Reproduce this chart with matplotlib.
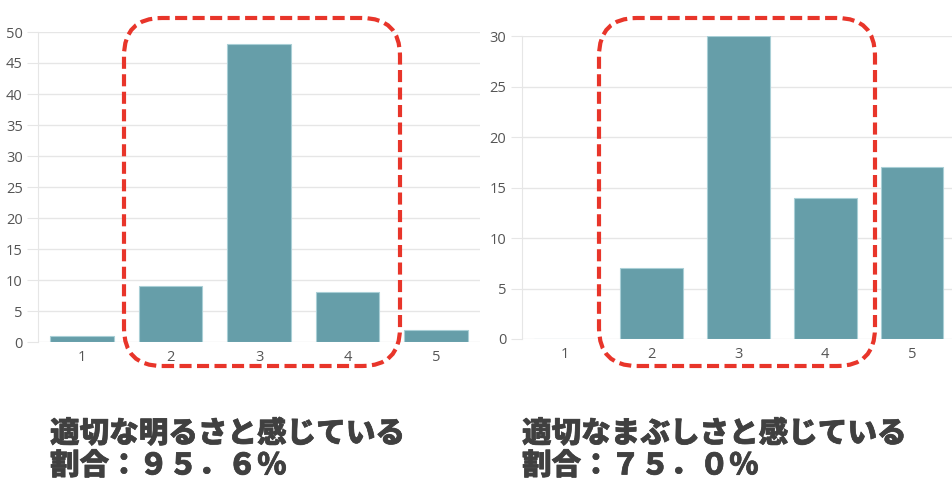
import matplotlib
matplotlib.use("Agg")
import matplotlib.pyplot as plt
import matplotlib.patheffects as pe
from matplotlib.patches import FancyBboxPatch

# ----------------------------
# Data
# ----------------------------
categories = [1, 2, 3, 4, 5]
bright_counts = [1, 9, 48, 8, 2]
glare_counts = [0, 7, 30, 14, 17]
bright_ticks = list(range(0, 51, 5))
glare_ticks = list(range(0, 31, 5))
caption_left = ["適切な明るさと感じている", "割合：９５．６％"]
caption_right = ["適切なまぶしさと感じている", "割合：７５．０％"]

BAR = "#669ea9"
BAR_EDGE = "#a9cfd6"
GRID = "#e6e6e6"
TICK_TXT = "#555555"
RED = "#e8352a"
TEXT = "#404040"

W, H = 952, 490
fig = plt.figure(figsize=(W / 100, H / 100), dpi=100)


def px_axes(x0, x1, ytop, ybot):
    return fig.add_axes([x0 / W, 1 - ybot / H, (x1 - x0) / W, (ybot - ytop) / H])


def draw_bars(ax, values, ticks):
    ax.bar(categories, values, width=0.72, color=BAR, edgecolor=BAR_EDGE,
           linewidth=0.8, zorder=3)
    ax.set_xlim(0.5, 5.5)
    ax.set_ylim(ticks[0], ticks[-1])
    ax.set_yticks(ticks)
    ax.set_xticks(categories)
    ax.grid(axis="y", color=GRID, linewidth=1.0, zorder=0)
    for s in ("top", "right", "bottom"):
        ax.spines[s].set_visible(False)
    ax.spines["left"].set_color(GRID)
    ax.tick_params(axis="y", length=8, color=GRID, labelcolor=TICK_TXT,
                   labelsize=10.5, pad=3)
    ax.tick_params(axis="x", length=0, labelcolor=TICK_TXT, labelsize=10.5, pad=6)
    for lab in ax.get_xticklabels() + ax.get_yticklabels():
        lab.set_family(["Open Sans", "DejaVu Sans"])


ax1 = px_axes(38, 480, 32, 342)
draw_bars(ax1, bright_counts, bright_ticks)

ax2 = px_axes(521.5, 955.5, 36, 339)
draw_bars(ax2, glare_counts, glare_ticks)


# red dashed highlight boxes (pixel-based, y from top)
def red_box(x0, x1, ytop, ybot):
    box = FancyBboxPatch((x0 / 100, (H - ybot) / 100), (x1 - x0) / 100, (ybot - ytop) / 100,
                         boxstyle="round,pad=0,rounding_size=0.38",
                         transform=fig.dpi_scale_trans, fill=False,
                         edgecolor=RED, linewidth=3, linestyle=(0, (2.9, 1.3)),
                         zorder=10)
    fig.patches.append(box)


red_box(124, 400, 18, 366)
red_box(599, 875, 18, 366)

# captions (thin stroke thickens the bold face a little)
for x, lines in ((50, caption_left), (522, caption_right)):
    for i, line in enumerate(lines):
        fig.text(x / W, 1 - (419 + i * 32) / H, line, ha="left", va="top",
                 fontsize=21.3, fontweight="heavy", color=TEXT,
                 family=["Noto Sans CJK JP", "DejaVu Sans"],
                 path_effects=[pe.withStroke(linewidth=0.5, foreground=TEXT)])

fig.savefig("out.png", dpi=100)
